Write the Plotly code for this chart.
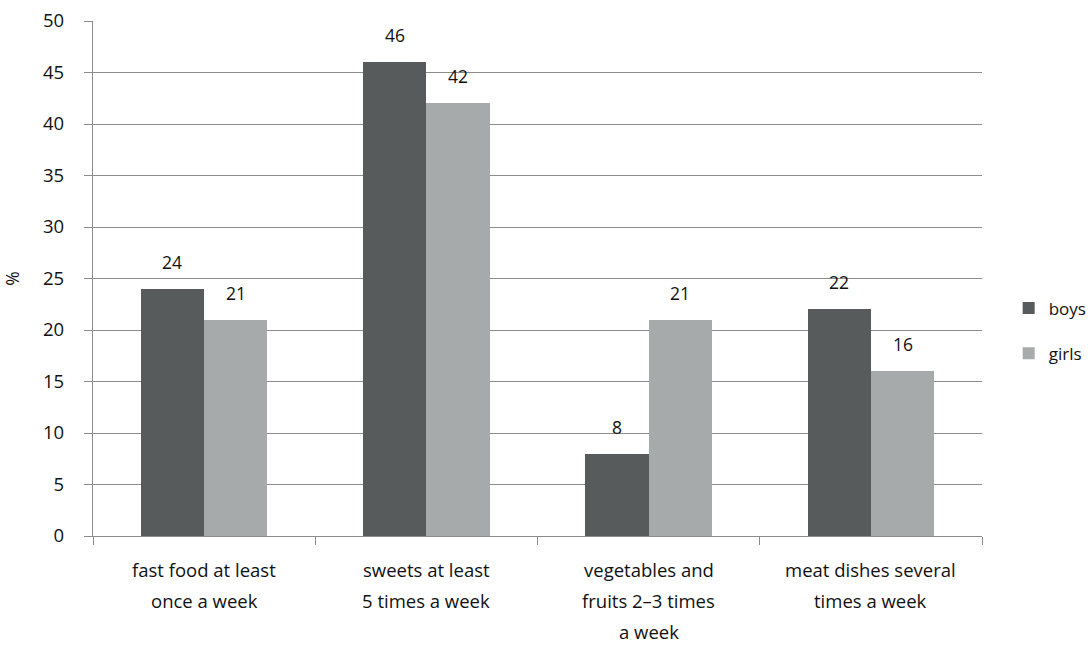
import plotly.graph_objects as go

categories = [
    ["fast food at least", "once a week"],
    ["sweets at least", "5 times a week"],
    ["vegetables and", "fruits 2\u20133 times", "a week"],
    ["meat dishes several", "times a week"],
]
boys = [24, 46, 8, 22]
girls = [21, 42, 21, 16]
y_ticks = list(range(0, 55, 5))

BOYS_C = "#575b5b"
GIRLS_C = "#a7aaaa"
GRID_C = "#8c8c8c"
FONT = "Open Sans"
W = 0.285

xs = list(range(len(categories)))
fig = go.Figure()
fig.add_trace(go.Bar(x=xs, y=boys, name="boys", offset=-W, width=W,
                     marker=dict(color=BOYS_C, line=dict(width=0)),
                     legendgroup="b"))
fig.add_trace(go.Bar(x=xs, y=girls, name="girls", offset=0, width=W,
                     marker=dict(color=GIRLS_C, line=dict(width=0)),
                     legendgroup="g"))

ann = []
for i, (b, g) in enumerate(zip(boys, girls)):
    ann.append(dict(x=i - W / 2, y=b, xref="x", yref="y", text=str(b),
                    showarrow=False, yanchor="middle", yshift=27,
                    font=dict(size=17.5, color="#111", family=FONT)))
    ann.append(dict(x=i + W / 2, y=g, xref="x", yref="y", text=str(g),
                    showarrow=False, yanchor="middle", yshift=27,
                    font=dict(size=17.5, color="#111", family=FONT)))
for i, lines in enumerate(categories):
    for j, line in enumerate(lines):
        ann.append(dict(x=i, y=0, xref="x", yref="paper", text=line,
                        showarrow=False, yanchor="middle", yshift=-33 - 31 * j,
                        borderpad=0,
                        font=dict(size=18.5, color="#111", family=FONT)))

fig.update_layout(
    width=1090, height=645,
    margin=dict(l=93, r=108, t=21, b=109, autoexpand=False),
    paper_bgcolor="white", plot_bgcolor="white",
    font=dict(family=FONT, size=17.5, color="#111"),
    bargap=0,
    showlegend=True,
    legend=dict(x=1.03, y=0.398, xanchor="left", yanchor="middle",
                traceorder="grouped", tracegroupgap=20,
                font=dict(size=17, family=FONT, color="#111"),
                itemwidth=30),
    annotations=ann,
    xaxis=dict(range=[-0.5, len(categories) - 0.5],
               tickvals=[i - 0.5 for i in range(len(categories) + 1)],
               ticktext=[""] * (len(categories) + 1),
               ticks="outside", ticklen=8, tickcolor=GRID_C, tickwidth=1.3,
               showgrid=False, zeroline=False,
               showline=True, linecolor=GRID_C, linewidth=1.3),
    yaxis=dict(range=[0, 50], tickvals=y_ticks,
               ticks="outside", ticklen=8, tickcolor=GRID_C, tickwidth=1.3,
               showgrid=True, gridcolor=GRID_C, gridwidth=1.3,
               zeroline=False, showline=True, linecolor=GRID_C, linewidth=1.3,
               ticklabelstandoff=16,
               tickfont=dict(size=18.5, family=FONT, color="#111"),
               title=dict(text="%", standoff=26,
                          font=dict(size=17.5, family=FONT, color="#111"))),
)

fig.write_html("out.html")
